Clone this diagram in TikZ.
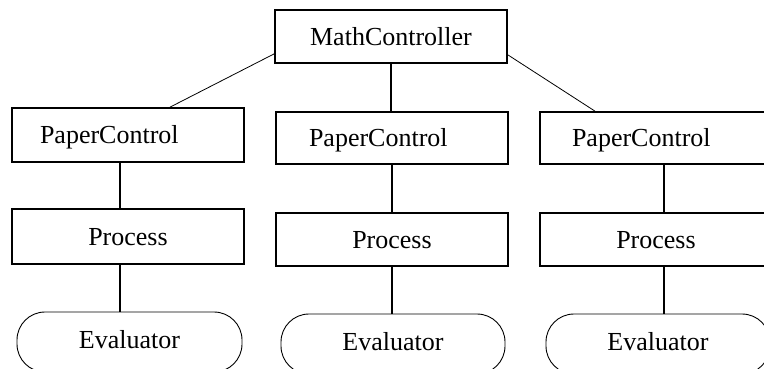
\documentclass[tikz,border=0pt]{standalone}
\usepackage{fontspec}
\setmainfont{Liberation Serif}
\begin{document}
\begin{tikzpicture}[x=1pt,y=-1pt,
  box/.style={draw,line width=1.7pt,inner ysep=0pt,inner xsep=0pt,text height=17pt,text depth=0pt,
    minimum width=232pt,font=\fontsize{26}{30}\selectfont},
  pcbox/.style={box,align=left},
  evalbox/.style={draw,line width=0.9pt,rounded corners=28pt,inner sep=0pt,text height=17pt,text depth=4pt,
    minimum width=224pt,minimum height=60pt,font=\fontsize{26}{30}\selectfont},
  thickline/.style={line width=1.7pt},
  thinline/.style={line width=0.8pt}]
\useasboundingbox (0,0) rectangle (764,368);
\node[box,minimum height=53pt] (mc) at (391,36.5) {MathController};
\node[pcbox,minimum height=54pt,text width=176pt,inner xsep=28pt] (pc1) at (128,135) {PaperControl};
\node[pcbox,minimum height=52pt,text width=166pt,inner xsep=33pt] (pc2) at (392,138) {PaperControl};
\node[pcbox,minimum height=52pt,text width=168pt,inner xsep=32pt] (pc3) at (656,138) {PaperControl};
\node[box,minimum height=55pt] (pr1) at (128,236.5) {Process};
\node[box,minimum height=53pt] (pr2) at (392,239.5) {Process};
\node[box,minimum height=53pt] (pr3) at (656,239.5) {Process};
\node[evalbox,minimum width=225pt] (ev1) at (129.5,342) {Evaluator};
\node[evalbox] (ev2) at (393,344) {Evaluator};
\node[evalbox] (ev3) at (658,344) {Evaluator};
\draw[thinline] ([yshift=10pt]mc.south west) -- ([xshift=42pt]pc1.north);
\draw[thinline] ([yshift=9pt]mc.south east) -- ([xshift=-61pt]pc3.north);
\draw[thickline] (mc.south) -- (mc.south |- pc2.north);
\draw[thickline] ([xshift=-8pt]pc1.south) -- ([xshift=-8pt]pc1.south |- pr1.north);
\draw[thickline] ([xshift=-8pt]pr1.south) -- ([xshift=-8pt]pr1.south |- ev1.north);
\draw[thickline] (pc2.south) -- (pc2.south |- pr2.north);
\draw[thickline] (pr2.south) -- (pr2.south |- ev2.north);
\draw[thickline] ([xshift=8pt]pc3.south) -- ([xshift=8pt]pc3.south |- pr3.north);
\draw[thickline] ([xshift=8pt]pr3.south) -- ([xshift=8pt]pr3.south |- ev3.north);
\end{tikzpicture}
\end{document}
